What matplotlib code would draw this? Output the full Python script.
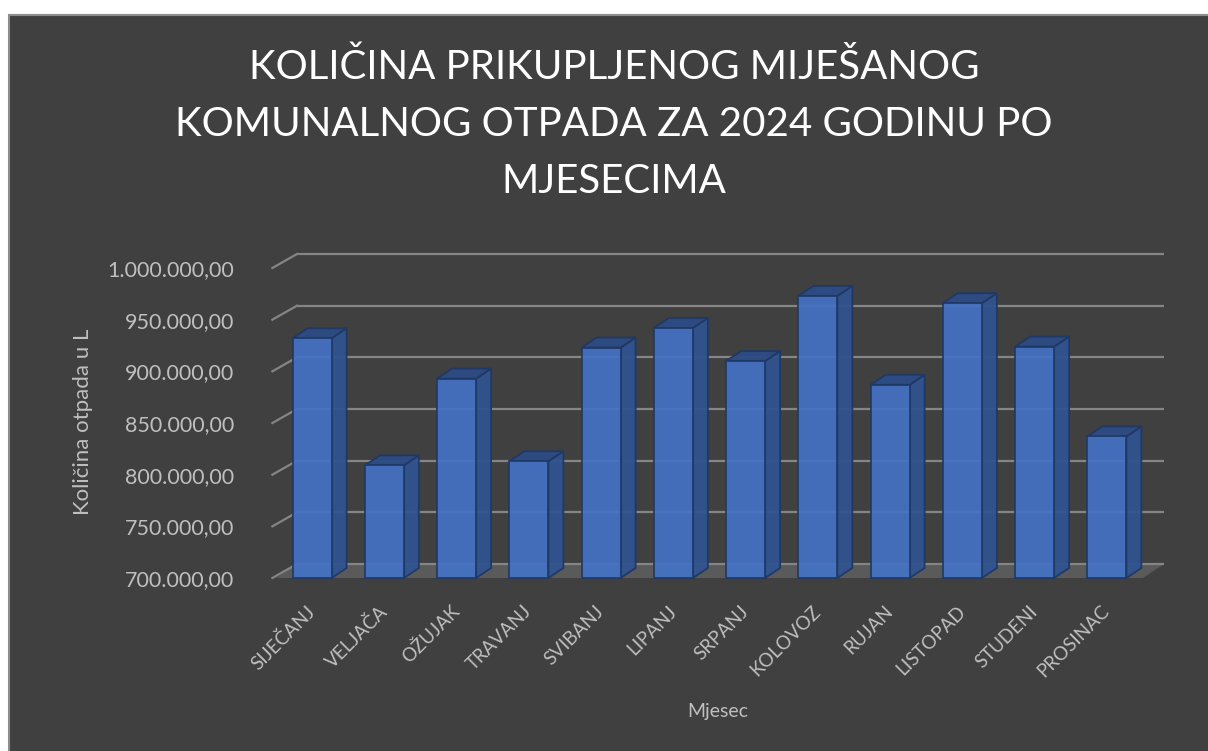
import numpy as np
import matplotlib.pyplot as plt
from matplotlib.patches import Polygon, Rectangle
from matplotlib.ticker import FuncFormatter

months = ['SIJEČANJ', 'VELJAČA', 'OŽUJAK', 'TRAVANJ', 'SVIBANJ', 'LIPANJ',
          'SRPANJ', 'KOLOVOZ', 'RUJAN', 'LISTOPAD', 'STUDENI', 'PROSINAC']
amounts = [932000, 809000, 893000, 813000, 923000, 942000,
           910000, 973000, 887000, 966000, 924000, 837000]
y_ticks = [700000, 750000, 800000, 850000, 900000, 950000, 1000000]

title = 'KOLIČINA PRIKUPLJENOG MIJEŠANOG\nKOMUNALNOG OTPADA ZA 2024 GODINU PO\nMJESECIMA'
y_title = 'Količina otpada u L'
x_title = 'Mjesec'

plt.rcParams['font.family'] = ['Lato', 'DejaVu Sans']

W, H = 1208, 751
bg = '#404040'
txt = '#bfbfbf'

fig = plt.figure(figsize=(W / 100, H / 100), dpi=100, facecolor='white')
fig.patches.append(Rectangle((9 / W, -0.01), 1.02 - 9 / W, 1.01 - 15 / H,
                             transform=fig.transFigure, facecolor=bg,
                             edgecolor='#8c8c8c', lw=1.5, zorder=-10))

# front plane of the 3d box
ax = fig.add_axes([276 / W, 1 - 578 / H, 867 / W, 310 / H])
ax.set_facecolor('none')
for s in ax.spines.values():
    s.set_visible(False)

x = np.arange(len(months))
ymin, ymax = y_ticks[0], y_ticks[-1]
ax.set_xlim(-0.5, len(months) - 0.5)
ax.set_ylim(ymin, ymax)

# pixel -> data conversion for the fake depth
ux = len(months) / 867.0
uy = (ymax - ymin) / 310.0
wall_dx, wall_dy = 21 * ux, 14 * uy
bar_dx, bar_dy = 15 * ux, 10 * uy

x0, x1 = -0.5, len(months) - 0.5
# floor
ax.add_patch(Polygon([(x0, ymin), (x1, ymin), (x1 + wall_dx, ymin + wall_dy),
                      (x0 + wall_dx, ymin + wall_dy)], closed=True,
                     facecolor='#5a5a5a', edgecolor='none', zorder=1, clip_on=False))
# gridlines on back wall + left wall edges
for t in y_ticks:
    ax.plot([x0 + wall_dx, x1 + wall_dx], [t + wall_dy, t + wall_dy],
            color='#858585', lw=1.6, zorder=2, clip_on=False, solid_capstyle='butt')
    ax.plot([x0 - 0.05, x0 + wall_dx], [t, t + wall_dy],
            color='#858585', lw=1.6, zorder=2, clip_on=False)

bw = 0.54
edge = '#1f3864'
for xi, v in zip(x, amounts):
    xl, xr = xi - bw / 2, xi + bw / 2
    side = [(xr, ymin), (xr + bar_dx, ymin + bar_dy), (xr + bar_dx, v + bar_dy), (xr, v)]
    top = [(xl, v), (xr, v), (xr + bar_dx, v + bar_dy), (xl + bar_dx, v + bar_dy)]
    ax.add_patch(Polygon(side, closed=True, facecolor='#30538f', edgecolor=edge,
                         lw=1.3, alpha=0.95, zorder=3, clip_on=False))
    ax.add_patch(Polygon(top, closed=True, facecolor='#2c4b85', edgecolor=edge,
                         lw=1.3, alpha=0.95, zorder=3, clip_on=False))

ax.bar(x, np.array(amounts) - ymin, bottom=ymin, width=bw, color='#4472c4',
       alpha=0.92, edgecolor=edge, lw=1.3, zorder=4, clip_on=False)

ax.set_yticks(y_ticks)
ax.yaxis.set_major_formatter(FuncFormatter(
    lambda v, p: f'{v:,.2f}'.replace(',', 'X').replace('.', ',').replace('X', '.')))
ax.tick_params(axis='y', length=0, pad=30, labelsize=15.5, labelcolor=txt)
ax.set_xticks(x, months, rotation=45, ha='right', va='center', rotation_mode='anchor')
ax.tick_params(axis='x', length=0, pad=22, labelsize=13.5, labelcolor=txt)

fig.text(83 / W, 1 - 422 / H, y_title, rotation=90, ha='center', va='center',
         fontsize=16, color=txt)
fig.text(718 / W, 1 - 712 / H, x_title, ha='center', va='center',
         fontsize=14, color=txt)
fig.text(614 / W, 1 - 124 / H, title, ha='center', va='center', fontsize=29,
         color='white', linespacing=1.67)

fig.savefig('out.png', dpi=100, facecolor='white')
